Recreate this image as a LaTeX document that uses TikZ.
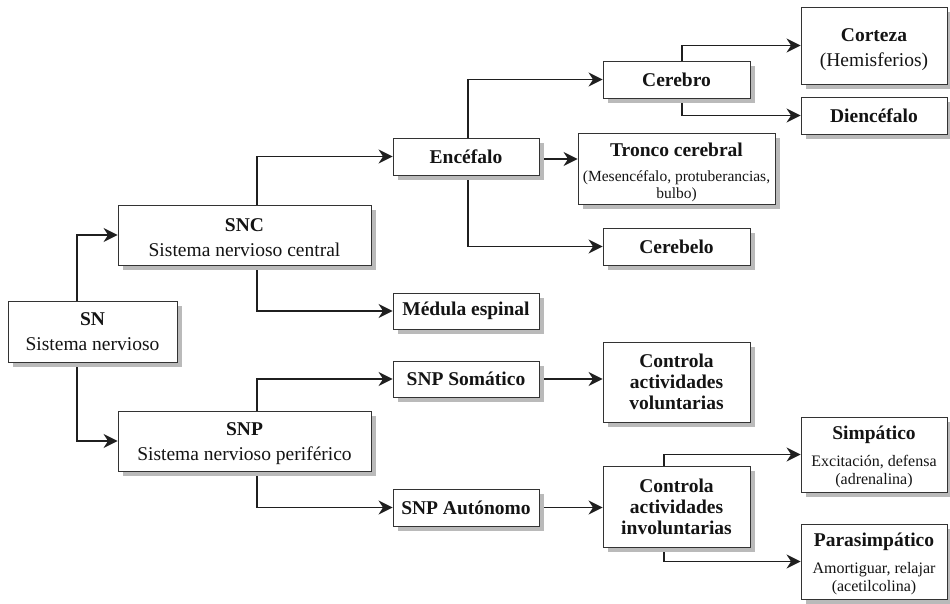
\documentclass[tikz,border=0pt]{standalone}
\usepackage{fontspec}
\setmainfont{Liberation Serif}
\usetikzlibrary{arrows.meta,shadows,backgrounds}

\newcommand{\bigtxt}{\fontsize{19.5}{25}\selectfont}
\newcommand{\smalltxt}{\fontsize{16}{18}\selectfont}
% taller first line, so that a text block sits a little lower in its box
\newcommand{\toplift}[1]{\rule{0pt}{#1}}

\tikzset{
  box/.style={draw=black!80, line width=0.9pt, fill=white, text=black!92,
    inner sep=0pt, align=center, font=\bigtxt,
    drop shadow={shadow xshift=5pt, shadow yshift=-5pt, fill=black!27, opacity=1}},
  link/.style={draw=black!88, line width=1.2pt,
    -{Stealth[length=14pt, width=14pt, inset=4.5pt]}}
}

\begin{document}
\begin{tikzpicture}[x=1pt, y=-1pt]
\useasboundingbox (0,0) rectangle (950,604);

% left column
\node[box, minimum width=169pt, minimum height=61pt] (sn) at (92.5,331.5)
  {\textbf{SN}\\Sistema nervioso};
\node[box, minimum width=253pt, minimum height=60pt] (snc) at (244.5,235)
  {\textbf{SNC}\toplift{18pt}\\Sistema nervioso central};
\node[box, minimum width=253pt, minimum height=60pt] (snp) at (244.5,441)
  {\textbf{SNP}\toplift{18pt}\\Sistema nervioso periférico};

% second column
\node[box, minimum width=146pt, minimum height=37pt] (enc) at (466,156.5) {\textbf{Encéfalo}};
\node[box, minimum width=146pt, minimum height=36pt] (med) at (466,311) {\textbf{Médula espinal}};
\node[box, minimum width=146pt, minimum height=36pt] (som) at (466,379) {\textbf{SNP Somático}};
\node[box, minimum width=146pt, minimum height=37pt] (aut) at (466,507.5) {\textbf{SNP Autónomo}};

% third column
\node[box, minimum width=147pt, minimum height=37pt] (cbro) at (676.5,79.5) {\textbf{Cerebro}};
\node[box, minimum width=197pt, minimum height=71pt] (tron) at (676.5,168.5)
  {\textbf{Tronco cerebral}\toplift{22pt}\\[0pt]{\fontsize{15.5}{18}\selectfont (Mesencéfalo, protuberancias,}\\[-8pt]{\fontsize{15.5}{18}\selectfont bulbo)}};
\node[box, minimum width=147pt, minimum height=37pt] (cblo) at (676.5,246.5) {\textbf{Cerebelo}};
\node[box, minimum width=147pt, minimum height=80pt, font=\fontsize{19.5}{21}\selectfont\bfseries] (cvol) at (676.5,382)
  {Controla\\actividades\\voluntarias};
\node[box, minimum width=147pt, minimum height=81pt, font=\fontsize{19.5}{21}\selectfont\bfseries] (cinv) at (676.5,506.5)
  {Controla\\actividades\\involuntarias};

% fourth column
\node[box, minimum width=146pt, minimum height=77pt] (cort) at (874,45.5)
  {\textbf{Corteza}\toplift{22pt}\\(Hemisferios)};
\node[box, minimum width=146pt, minimum height=37pt] (dien) at (874,115.5) {\textbf{Diencéfalo}};
\node[box, minimum width=146pt, minimum height=75pt] (simp) at (874,454.5)
  {\textbf{Simpático}\toplift{19pt}\\[2pt]{\smalltxt Excitación, defensa}\\[-7pt]{\smalltxt (adrenalina)}};
\node[box, minimum width=146pt, minimum height=75pt] (para) at (874,561.5)
  {\textbf{Parasimpático}\toplift{19pt}\\[2pt]{\smalltxt Amortiguar, relajar}\\[-7pt]{\smalltxt (acetilcolina)}};

% connectors, kept behind the boxes and their shadows
\begin{scope}[on background layer]
  \draw[link] ([xshift=-15.5pt]sn.north) |- (snc.west);
  \draw[link] ([xshift=-15.5pt]sn.south) |- (snp.west);
  \draw[link] ([xshift=12.5pt]snc.north) |- (enc.west);
  \draw[link] ([xshift=12.5pt]snc.south) |- (med.west);
  \draw[link] ([xshift=12.5pt]snp.north) |- (som.west);
  \draw[link] ([xshift=12.5pt]snp.south) |- (aut.west);
  \draw[link] ([xshift=2pt]enc.north) |- (cbro.west);
  \draw[link] ([xshift=2pt]enc.south) |- (cblo.west);
  \draw[link] ([yshift=-2.5pt]enc.east) -- ([yshift=-2.5pt]enc.east -| tron.west);
  \draw[link] ([xshift=5.5pt]cbro.north) |- (cort.west);
  \draw[link] ([xshift=5.5pt]cbro.south) |- (dien.west);
  \draw[link] (som.east) -- (som.east -| cvol.west);
  \draw[link] (aut.east) -- (aut.east -| cinv.west);
  \draw[link] ([xshift=-12.5pt]cinv.north) |- (simp.west);
  \draw[link] ([xshift=-12.5pt]cinv.south) |- (para.west);
\end{scope}
\end{tikzpicture}
\end{document}
